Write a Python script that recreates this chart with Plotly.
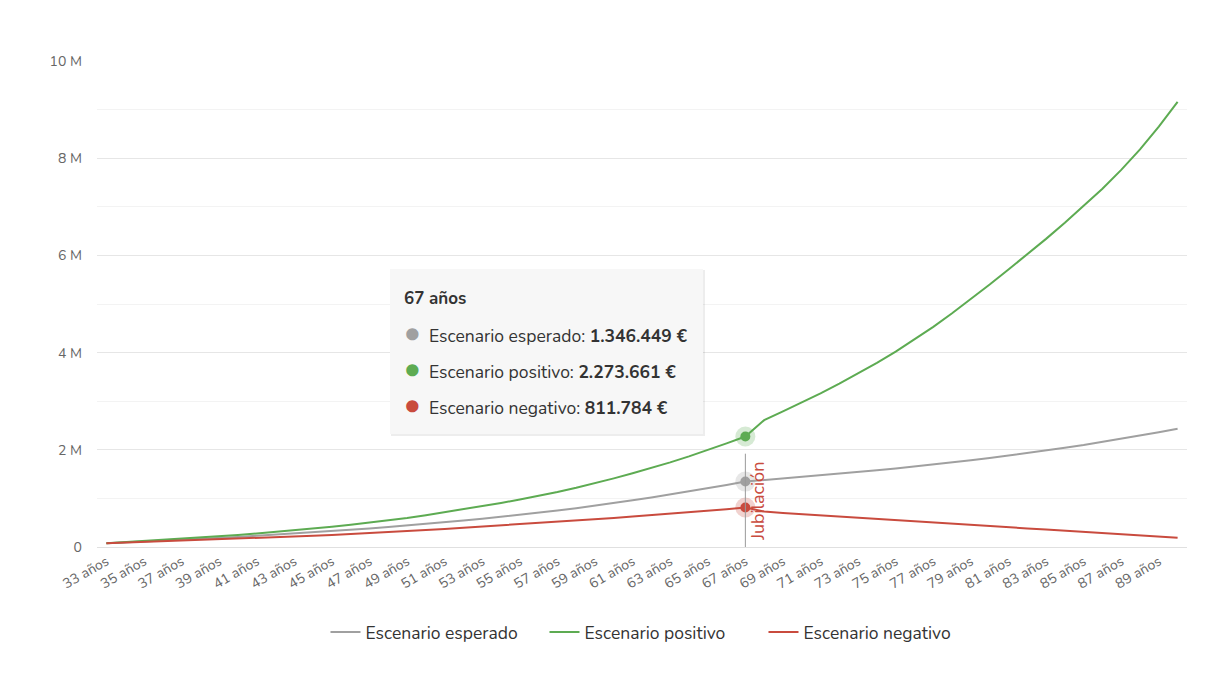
import plotly.graph_objects as go

# ages 33..90, values in millions of euros
AGES = list(range(33, 91))
TICK_AGES = list(range(33, 90, 2))
TICK_TEXT = [f"{a} años" for a in TICK_AGES]
RETIRE_AGE = 67

ESPERADO = [
    0.076, 0.093, 0.111, 0.129, 0.148, 0.167, 0.187, 0.208, 0.23, 0.253,
    0.277, 0.302, 0.328, 0.355, 0.383, 0.412, 0.442, 0.474, 0.508, 0.543,
    0.58, 0.619, 0.66, 0.703, 0.749, 0.798, 0.849, 0.903, 0.96, 1.019,
    1.08, 1.143, 1.208, 1.276, 1.346449,
    1.378, 1.408, 1.44, 1.472, 1.505, 1.54, 1.577, 1.615, 1.655, 1.697,
    1.74, 1.785, 1.832, 1.881, 1.932, 1.985, 2.04, 2.097, 2.16, 2.225,
    2.292, 2.362, 2.435,
]
POSITIVO = [
    0.076, 0.099, 0.122, 0.146, 0.17, 0.195, 0.221, 0.249, 0.279, 0.311,
    0.345, 0.381, 0.419, 0.459, 0.502, 0.548, 0.599, 0.655, 0.715, 0.777,
    0.841, 0.907, 0.977, 1.051, 1.131, 1.218, 1.312, 1.412, 1.517, 1.627,
    1.742, 1.865, 1.995, 2.132, 2.273661,
    2.61, 2.79, 2.97, 3.16, 3.36, 3.57, 3.79, 4.02, 4.27, 4.53,
    4.81, 5.10, 5.40, 5.71, 6.02, 6.34, 6.67, 7.01, 7.37, 7.76,
    8.18, 8.65, 9.16,
]
NEGATIVO = [
    0.076, 0.089, 0.102, 0.115, 0.128, 0.142, 0.156, 0.17, 0.185, 0.20,
    0.216, 0.232, 0.249, 0.267, 0.286, 0.306, 0.327, 0.349, 0.372, 0.395,
    0.419, 0.443, 0.468, 0.493, 0.519, 0.545, 0.572, 0.599, 0.627, 0.655,
    0.684, 0.713, 0.743, 0.777, 0.811784,
    0.73, 0.70, 0.675, 0.65, 0.622, 0.596, 0.57, 0.545, 0.52, 0.495,
    0.472, 0.45, 0.428, 0.405, 0.382, 0.36, 0.336, 0.312, 0.29, 0.265,
    0.24, 0.215, 0.19,
]
Y_TICKS = [0, 2e6, 4e6, 6e6, 8e6, 10e6]
Y_TEXT = ["0", "2 M", "4 M", "6 M", "8 M", "10 M"]

GRAY, GREEN, RED = "#a0a0a0", "#5dab52", "#c94b3e"
FONT = "Nunito, Lato, sans-serif"
SERIES = [("Escenario esperado", ESPERADO, GRAY),
          ("Escenario positivo", POSITIVO, GREEN),
          ("Escenario negativo", NEGATIVO, RED)]

fig = go.Figure()
for name, vals, col in SERIES:
    fig.add_trace(go.Scatter(x=AGES, y=[v * 1e6 for v in vals], name=name, mode="lines",
                             line=dict(color=col, width=2)))

# hover markers at retirement age
i67 = AGES.index(RETIRE_AGE)
for name, vals, col in SERIES:
    fig.add_trace(go.Scatter(x=[RETIRE_AGE], y=[vals[i67] * 1e6], mode="markers", showlegend=False,
                             marker=dict(size=20, color=col, opacity=0.25), hoverinfo="skip"))
    fig.add_trace(go.Scatter(x=[RETIRE_AGE], y=[vals[i67] * 1e6], mode="markers", showlegend=False,
                             marker=dict(size=10, color=col), hoverinfo="skip"))

# retirement plot line + label
fig.add_shape(type="line", x0=RETIRE_AGE, x1=RETIRE_AGE, y0=0, y1=1.92e6,
              line=dict(color="#999999", width=1))
fig.add_annotation(x=RETIRE_AGE, y=0, text="Jubilación", textangle=-90, showarrow=False,
                   xanchor="left", yanchor="bottom", xshift=-2, yshift=4,
                   font=dict(family=FONT, size=18, color=RED))


# tooltip box (pixel positions of the screenshot -> paper coords)
def px_x(p):
    return (p - 96) / 1090


def px_y(p):
    return (546 - p) / 486


fig.add_shape(type="rect", xref="paper", yref="paper", x0=px_x(390), x1=px_x(704),
              y0=px_y(435), y1=px_y(269), line=dict(width=0), fillcolor="rgba(0,0,0,0.07)")
fig.add_shape(type="rect", xref="paper", yref="paper", x0=px_x(389), x1=px_x(702),
              y0=px_y(433), y1=px_y(268), line=dict(width=0), fillcolor="#f7f7f7")
fig.add_annotation(xref="paper", yref="paper", x=px_x(401), y=px_y(297), xanchor="left",
                   yanchor="middle", showarrow=False, text=f"<b>{RETIRE_AGE} años</b>",
                   font=dict(family=FONT, size=17, color="#333333"))
for k, (name, vals, col) in enumerate(SERIES):
    val = f"{vals[i67] * 1e6:,.0f}".replace(",", ".")
    fig.add_annotation(xref="paper", yref="paper", x=px_x(402), y=px_y(333 + 36 * k),
                       xanchor="left", yanchor="middle", showarrow=False,
                       text=f"<span style='color:{col};font-size:25px'>●</span>&nbsp; {name}: <b>{val} €</b>",
                       font=dict(family=FONT, size=17.5, color="#333333"))

fig.update_layout(
    width=1225, height=677,
    margin=dict(l=89, r=46, t=53, b=138),
    plot_bgcolor="white", paper_bgcolor="white",
    font=dict(family=FONT, color="#666666"),
    showlegend=True,
    legend=dict(orientation="h", x=0.511, xanchor="center", y=-0.175, yanchor="middle",
                font=dict(family=FONT, size=17.5, color="#333333"), itemwidth=30,
                entrywidth=174, entrywidthmode="pixels", traceorder="normal"),
    hovermode=False,
)
fig.update_xaxes(range=[32.5, 90.5], tickvals=TICK_AGES, ticktext=TICK_TEXT, tickangle=-30,
                 showgrid=False, zeroline=False, showline=True, linecolor="#e0e0e0",
                 tickfont=dict(size=14, color="#666666"), ticks="")
fig.update_yaxes(range=[0, 10e6], tickvals=Y_TICKS, ticktext=Y_TEXT, showgrid=True,
                 gridcolor="#e6e6e6", zeroline=False, showline=False,
                 tickfont=dict(size=14, color="#666666"), ticklabelstandoff=14,
                 minor=dict(dtick=1e6, showgrid=True, gridcolor="#f3f3f3"))

fig.write_html("out.html")
